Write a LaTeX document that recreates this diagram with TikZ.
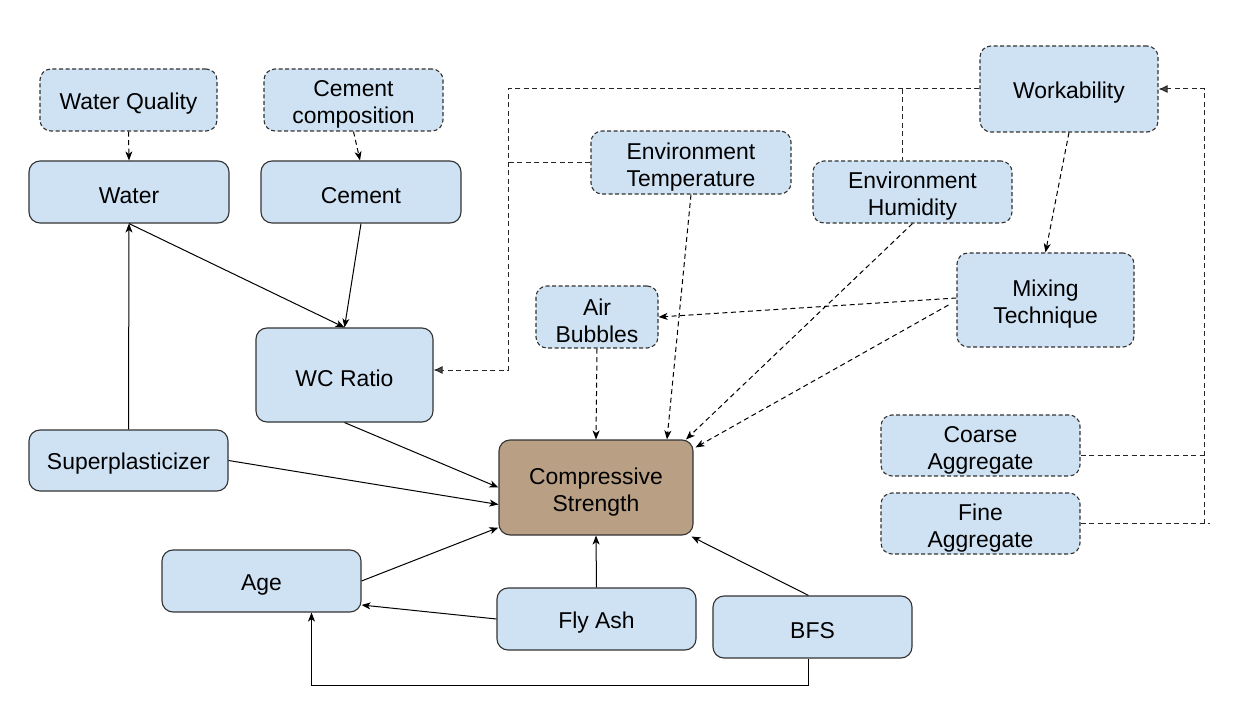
\documentclass[tikz,border=0pt]{standalone}
\usepackage{fontspec}
\setmainfont{Liberation Sans}
\usetikzlibrary{arrows.meta,calc}
\definecolor{boxblue}{HTML}{CFE2F3}
\definecolor{boxbrown}{HTML}{B9A085}
\definecolor{edge}{HTML}{333333}
\newcommand\myup{\rule{0pt}{25bp}}
\begin{document}
\begin{tikzpicture}[x=1bp,y=-1bp,
  box/.style={draw=edge,fill=boxblue,rounded corners=11bp,line width=1.1bp,align=center,inner sep=0pt,
    font=\fontsize{23}{27}\selectfont,execute at begin node={\rule{0pt}{23bp}}},
  dbox/.style={box,dashed,dash pattern=on 4bp off 2.5bp},
  conn/.style={draw=black,line width=1bp,-{Stealth[length=9bp,width=7bp,inset=2.5bp]}},
  dconn/.style={conn,dashed,dash pattern=on 5bp off 3.5bp},
  dline/.style={draw=black!85,line width=1bp,dashed,dash pattern=on 5bp off 3.5bp},
  garrow/.style={dline,-{Latex[length=9bp,width=8bp,fill=black!70]}},
]
\useasboundingbox (0,0) rectangle (1241,703);
\fill[white] (0,0) rectangle (1241,703);

% nodes
\node[dbox,minimum width=177bp,minimum height=62bp] (wq) at (128.5,100) {Water Quality};
\node[dbox,minimum width=179bp,minimum height=62bp] (cc) at (353.5,100) {\myup Cement\\composition};
\node[box,minimum width=200bp,minimum height=62bp] (water) at (129,192) {Water};
\node[box,minimum width=200bp,minimum height=62bp] (cement) at (361,192) {Cement};
\node[box,minimum width=177bp,minimum height=94bp] (wc) at (344.5,375) {WC Ratio};
\node[box,minimum width=199bp,minimum height=61bp] (sp) at (128.5,460.5) {Superplasticizer};
\node[box,fill=boxbrown,minimum width=194bp,minimum height=95bp] (cs) at (596,487.5) {\myup Compressive\\Strength};
\node[box,minimum width=199bp,minimum height=62bp] (age) at (261.5,581) {Age};
\node[box,minimum width=199bp,minimum height=62bp] (fly) at (596.5,619) {Fly Ash};
\node[box,minimum width=199bp,minimum height=62bp] (bfs) at (812.5,627) {BFS};
\node[dbox,minimum width=122bp,minimum height=62bp] (air) at (597,317) {\myup Air\\Bubbles};
\node[dbox,minimum width=200bp,minimum height=63bp] (et) at (691,162.5) {\myup Environment\\Temperature};
\node[dbox,minimum width=199bp,minimum height=62bp] (eh) at (912.5,192) {\myup Environment\\Humidity};
\node[dbox,minimum width=178bp,minimum height=86bp] (wk) at (1069,89) {Workability};
\node[dbox,minimum width=177bp,minimum height=94bp] (mt) at (1045.5,300) {\myup Mixing\\Technique};
\node[dbox,minimum width=199bp,minimum height=61bp] (ca) at (980.5,445.5) {\myup Coarse\\Aggregate};
\node[dbox,minimum width=199bp,minimum height=61bp] (fa) at (980.5,523.5) {\myup Fine\\Aggregate};

% junction coordinates
\coordinate (j1) at (508,89);
\coordinate (j2) at (508,370);
\coordinate (j3) at (902,89);
\coordinate (j4) at (1204,89);

% solid connectors
\draw[conn] (sp.north) -- (water.south);
\draw[conn] (water.south) -- (wc.north);
\draw[conn] (cement.south) -- (wc.north);
\draw[conn] (wc.south) -- (cs.west);
\draw[conn] (sp.east) -- ([yshift=-17bp]cs.west);
\draw[conn] (age.east) -- ([yshift=-40bp]cs.west);
\draw[conn] (fly.north) -- (cs.south);
\draw[conn] ([xshift=-4bp]bfs.north) -- ([xshift=-2bp,yshift=-1bp]cs.south east);
\draw[conn] (fly.west) -- ([yshift=-24bp]age.east);
\draw[conn] ([xshift=-4bp]bfs.south) -- ++(0,27) -| ([xshift=50bp]age.south);

% dashed connectors
\draw[dconn] (wq.south) -- (water.north);
\draw[dconn] (cc.south) -- ([xshift=-1bp]cement.north);
\draw[dconn] (air.south) -- (cs.north);
\draw[dconn] (et.south) -- ([xshift=71bp]cs.north);
\draw[dconn] (eh.south) -- ([xshift=90bp]cs.north);
\draw[dconn] ([yshift=2bp]mt.west) -- (air.east);
\draw[dconn] ([xshift=-8bp,yshift=-5bp]mt.west) -- ([xshift=2bp,yshift=-8bp]cs.north east);
\draw[dconn] (wk.south) -- (mt.north);

\draw[garrow] (wk.west) -- (j1) -- (j2) -- (wc.east |- j2);
\draw[dline] (j3) -- (j3 |- eh.north);
\draw[dline] (et.west) -- (et.west -| j1);

\draw[dline] (fa.east) -- ($(fa.east -| j4)+(6,0)$);
\draw[dline] ([yshift=-10bp]ca.east) -- ([yshift=-10bp]ca.east -| j4);
\draw[garrow] (fa.east -| j4) -- (j4) -- (wk.east);
\end{tikzpicture}
\end{document}
